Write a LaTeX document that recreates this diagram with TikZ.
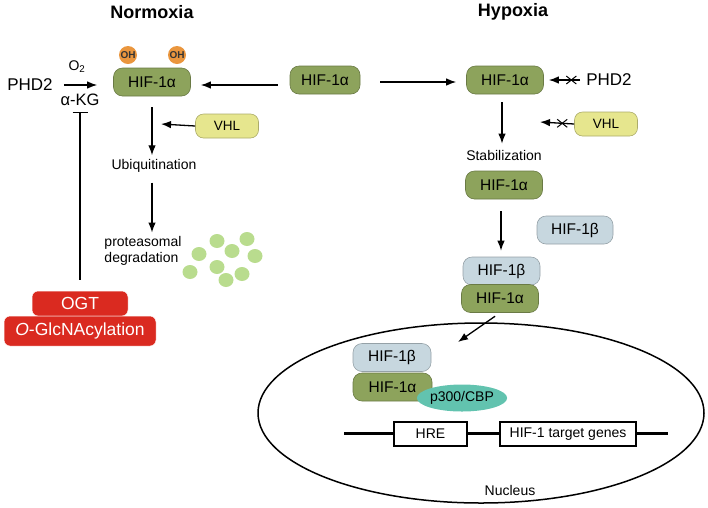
\documentclass[tikz,border=0pt]{standalone}
\usepackage{fontspec}
\setmainfont{Liberation Sans}
\usetikzlibrary{arrows.meta, positioning, shapes.geometric}
\definecolor{hifgreen}{HTML}{8DA35C}
\definecolor{hifblue}{HTML}{C7D7DF}
\definecolor{vhlyellow}{HTML}{E6E68E}
\definecolor{ohorange}{HTML}{EA963E}
\definecolor{ogtred}{HTML}{DA2A20}
\definecolor{cbpteal}{HTML}{62C3AF}
\definecolor{dotgreen}{HTML}{B9DC8E}
\tikzset{
  prot/.style={rectangle,rounded corners=9pt,line width=0.6pt,minimum width=77pt,minimum height=28pt,inner sep=0pt,font=\fontsize{15.5}{17}\selectfont},
  alpha/.style={prot,fill=hifgreen,draw=hifgreen!75!black},
  beta/.style={prot,fill=hifblue,draw=hifblue!75!black},
  vhl/.style={prot,fill=vhlyellow,draw=vhlyellow!75!black,minimum width=63pt,minimum height=24pt,rounded corners=8pt,font=\fontsize{13.5}{15}\selectfont},
  oh/.style={circle,fill=ohorange,minimum size=18pt,inner sep=0pt,font=\bfseries\fontsize{10}{11}\selectfont,text=black!80},
  redbox/.style={rectangle,rounded corners=6pt,fill=ogtred,draw=white,line width=0.5pt,text=white,inner sep=0pt,font=\fontsize{17.5}{19}\selectfont},
  gene/.style={rectangle,draw,fill=white,line width=1.2pt,minimum height=24pt,inner sep=0pt,font=\fontsize{14}{16}\selectfont},
  lab/.style={font=\fontsize{14}{16}\selectfont,inner sep=1pt},
  title/.style={font=\bfseries\fontsize{18}{20}\selectfont},
  line/.style={-{Latex[length=10pt,width=7.5pt]},line width=1.3pt},
  crossline/.style={line width=1pt}
}

\begin{document}
\begin{tikzpicture}[x=1pt,y=-1pt]
\useasboundingbox (0,0) rectangle (708,507);
% titles
\node[title] (norm) at (152,12) {Normoxia};
\node[title] (hypo) at (513,12) {Hypoxia};
% normoxia branch
\node[oh] (ohl) at (128,55) {OH};
\node[oh] (ohr) at (177,55) {OH};
\node[alpha] (hifn) at (152,82) {HIF-1α};
\node[font=\fontsize{17}{19}\selectfont,inner sep=0pt] (phdn) at (30,85) {PHD2};
\node[font=\fontsize{14}{16}\selectfont,inner sep=0pt] (otwo) at (77,67) {O\textsubscript{2}};
\node[font=\fontsize{16.5}{18}\selectfont,inner sep=0pt] (akg) at (80,100) {α-KG};
\node[vhl] (vhln) at (227,126) {VHL};
\coordinate (vhlnend) at (161,124);
\node[lab] (ubiq) at (154,166) {Ubiquitination};
\node[lab,align=left,font=\fontsize{14}{15.5}\selectfont] (prot) at (143,251) {proteasomal\\degradation};
\foreach \dx/\dy in {199/254, 217/241, 247/239, 232/251, 255/256, 217/267, 190/272, 242/274, 226/280}
  \fill[dotgreen] (\dx,\dy) ellipse (7.5pt and 7pt);
\node[redbox,minimum width=96pt,minimum height=25pt] (ogt) at (80,303.5) {OGT};
\node[redbox,minimum width=152pt,minimum height=30pt] (oglc) at (80,331) {\textit{O}-GlcNAcylation};
% centre
\node[alpha,minimum width=70pt] (hifm) at (325,80) {HIF-1α};
% hypoxia branch
\node[alpha] (hifh) at (505,80) {HIF-1α};
\node[font=\fontsize{17}{19}\selectfont,inner sep=0pt] (phdh) at (609,80) {PHD2};
\node[vhl] (vhlh) at (606,124) {VHL};
\coordinate (vhlhend) at (540,122);
\node[lab] (stab) at (504,155) {Stabilization};
\node[alpha] (hifs) at (504,185) {HIF-1α};
\node[beta,minimum width=76pt] (hifb) at (575,230) {HIF-1β};
\node[beta] (betas) at (501.5,271) {HIF-1β};
\node[alpha] (alphas) at (500,298.5) {HIF-1α};
% nucleus
\node[ellipse,draw,line width=1.5pt,minimum width=446pt,minimum height=180pt] (nuc) at (481,413) {};
\coordinate (nucin) at (458,342);
\node[beta,minimum width=78pt] (betan) at (392,357.5) {HIF-1β};
\node[alpha,minimum width=79pt] (alphan) at (392.5,387) {HIF-1α};
\node[ellipse,fill=cbpteal,minimum width=80pt,minimum height=27pt,inner sep=0pt,font=\fontsize{14}{16}\selectfont] (cbp) at (462,398) {p300/CBP};
\coordinate (dnal) at (344,433);
\coordinate (dnar) at (668,433);
\draw[line width=3pt] (dnal) -- (dnar);
\node[gene,minimum width=73pt] (hre) at (430.5,434) {HRE};
\node[gene,minimum width=136pt] (genes) at (568,434) {HIF-1 target genes};
\node[lab] (nuclab) at (510,490) {Nucleus};
% connectors
\draw[line,shorten <=11pt,shorten >=16pt] (phdn.east) -- (phdn.east -| hifn.west);
\draw[line width=1.3pt,-{Bar[width=15pt]},shorten <=11pt,shorten >=6pt] (ogt.north -| akg.south) -- (akg.south);
\draw[line] (vhln.west) -- (vhlnend);
\draw[line,shorten <=11pt,shorten >=3pt] (hifn.south) -- (hifn.south |- ubiq.north);
\draw[line,shorten <=9pt,shorten >=3pt] (hifn.south |- ubiq.south) -- (hifn.south |- prot.north);
\draw[line,shorten <=12pt,shorten >=10pt] ([yshift=-5pt]hifm.west) -- ([yshift=-5pt]hifm.west -| hifn.east);
\draw[line,shorten <=20pt,shorten >=10pt] ([yshift=-2pt]hifm.east) -- ([yshift=-2pt]hifm.east -| hifh.west);
\draw[line,shorten <=6pt,shorten >=5pt] (phdh.west) -- coordinate[pos=0.35] (xphd) (phdh.west -| hifh.east);
\draw[crossline] ([shift={(-5,-4)}]xphd) -- ([shift={(5,4)}]xphd) ([shift={(-5,4)}]xphd) -- ([shift={(5,-4)}]xphd);
\draw[line] (vhlh.west) -- coordinate[pos=0.35] (xvhl) (vhlhend);
\draw[crossline] ([shift={(-5,-4)}]xvhl) -- ([shift={(5,4)}]xvhl) ([shift={(-5,4)}]xvhl) -- ([shift={(5,-4)}]xvhl);
\draw[line,shorten <=8pt,shorten >=5pt] ([xshift=-3pt]hifh.south) -- ([xshift=-3pt]hifh.south |- stab.north);
\draw[line,shorten <=12pt,shorten >=6pt] ([xshift=-3pt]hifs.south) -- ([xshift=-3pt]hifs.south |- betas.north);
\draw[line,shorten <=6pt] (alphas.south) -- (nucin);
\end{tikzpicture}
\end{document}
